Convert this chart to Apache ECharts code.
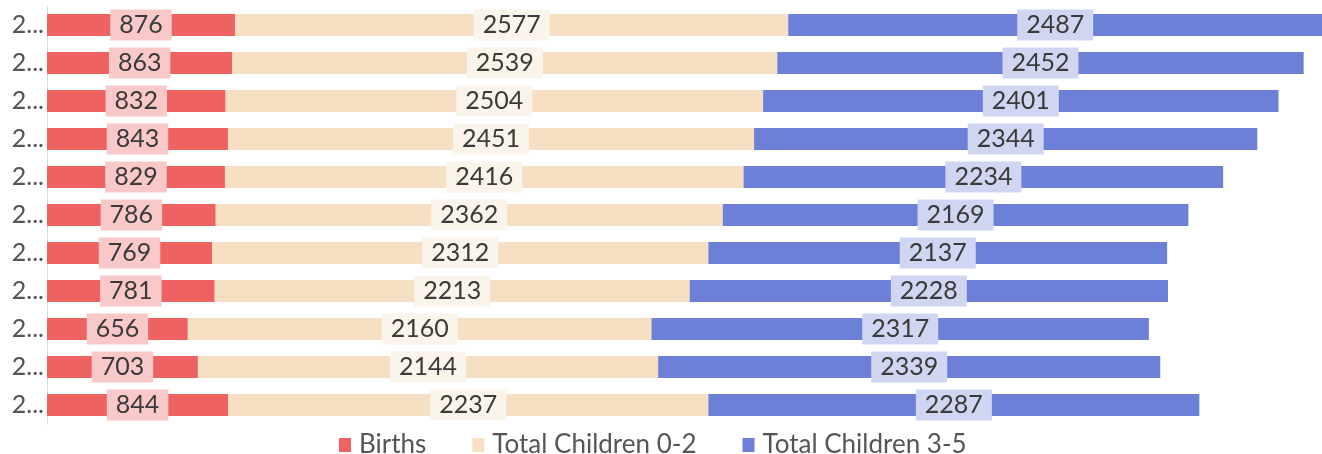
<!DOCTYPE html>
<html>
<head>
<meta charset="utf-8">
<script src="https://cdn.jsdelivr.net/npm/echarts@6/dist/echarts.min.js"></script>
<style>html,body{margin:0;padding:0;background:#fff;}#c{width:1322px;height:454px;}</style>
</head>
<body>
<div id="c"></div>
<script>
const categories = ["2023","2022","2021","2020","2019","2018","2017","2016","2015","2014","2013"];
const births = [876, 863, 832, 843, 829, 786, 769, 781, 656, 703, 844];
const children02 = [2577, 2539, 2504, 2451, 2416, 2362, 2312, 2213, 2160, 2144, 2237];
const children35 = [2487, 2452, 2401, 2344, 2234, 2169, 2137, 2228, 2317, 2339, 2287];
const seriesNames = ["Births", "Total Children 0-2", "Total Children 3-5"];
const colors = ["#ee6262", "#f6dfc3", "#6b80d6"];
const labelBg = ["#f9c8c8", "#fbf4ea", "#d0d5f2"];

const FONT = "Lato, 'Open Sans', sans-serif";
const chart = echarts.init(document.getElementById('c'), null, {renderer: 'canvas'});
function mk(name, data, i) {
  return {
    name: name, type: 'bar', stack: 'total', data: data, barWidth: 22,
    itemStyle: {color: colors[i]},
    label: {
      show: true, position: 'inside', color: '#3a3a3a', fontFamily: FONT, fontSize: 25,
      backgroundColor: labelBg[i], padding: [3, 9]
    },
    emphasis: {disabled: true}
  };
}
chart.setOption({
  animation: false,
  textStyle: {fontFamily: FONT},
  grid: {left: 47, width: 1288, top: 6, bottom: 30, containLabel: false, outerBoundsMode: 'none'},
  xAxis: {type: 'value', min: 0, max: 6000, show: false},
  yAxis: {
    type: 'category', data: categories, inverse: true,
    axisLine: {show: true, lineStyle: {color: '#dddddd'}},
    axisTick: {show: false},
    axisLabel: {color: '#555', fontSize: 25, fontFamily: FONT, width: 42, overflow: 'truncate', margin: 3}
  },
  legend: {
    top: 427, left: 334, itemGap: 46, itemWidth: 12, itemHeight: 14, icon: 'rect',
    textStyle: {color: '#555', fontSize: 26, fontFamily: FONT, padding: [0, 0, 0, 3]},
    data: seriesNames
  },
  series: [mk(seriesNames[0], births, 0), mk(seriesNames[1], children02, 1), mk(seriesNames[2], children35, 2)]
});
</script>
</body>
</html>
